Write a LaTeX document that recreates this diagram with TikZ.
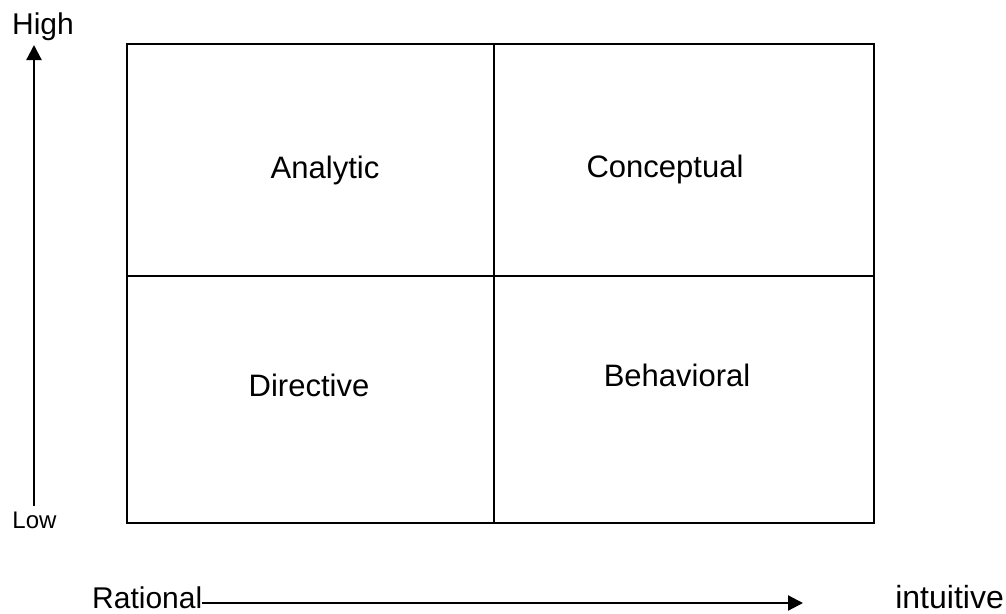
\documentclass[tikz,border=0pt]{standalone}
\usepackage{fontspec}
\setmainfont{Liberation Sans}
\usetikzlibrary{arrows.meta}
\begin{document}
\begin{tikzpicture}[x=1pt,y=-1pt,
  lbl/.style={inner sep=0pt,anchor=base,font=\fontsize{31}{36}\selectfont},
  axis/.style={line width=2.2pt,-{Triangle[length=15pt,width=15pt]}},
  frame/.style={line width=2.2pt}]
\useasboundingbox (0,0) rectangle (1006,613);
\draw[frame] (127,44) rectangle (874,523);
\draw[frame] (494,44) -- (494,523);
\draw[frame] (127,276) -- (874,276);
\node[lbl] (analytic) at (325,178) {Analytic};
\node[lbl] (conceptual) at (665,177) {Conceptual};
\node[lbl] (directive) at (309,396) {Directive};
\node[lbl] (behavioral) at (677,386) {Behavioral};
\node[lbl,font=\fontsize{30}{34}\selectfont] (high) at (43,34) {High};
\node[lbl,font=\fontsize{24}{28}\selectfont] (low) at (34.5,528) {Low};
\node[lbl,anchor=base west,font=\fontsize{30}{36}\selectfont] (rational) at (92,608) {Rational};
\node[lbl,anchor=base east,font=\fontsize{32}{36}\selectfont] (intuitive) at (1004,608) {intuitive};
\coordinate (vb) at (34,506);
\coordinate (vt) at (34,45);
\coordinate (hl) at (202,603);
\coordinate (hr) at (803,603);
\draw[axis] (vb) -- (vt);
\draw[axis] (hl) -- (hr);
\end{tikzpicture}
\end{document}
